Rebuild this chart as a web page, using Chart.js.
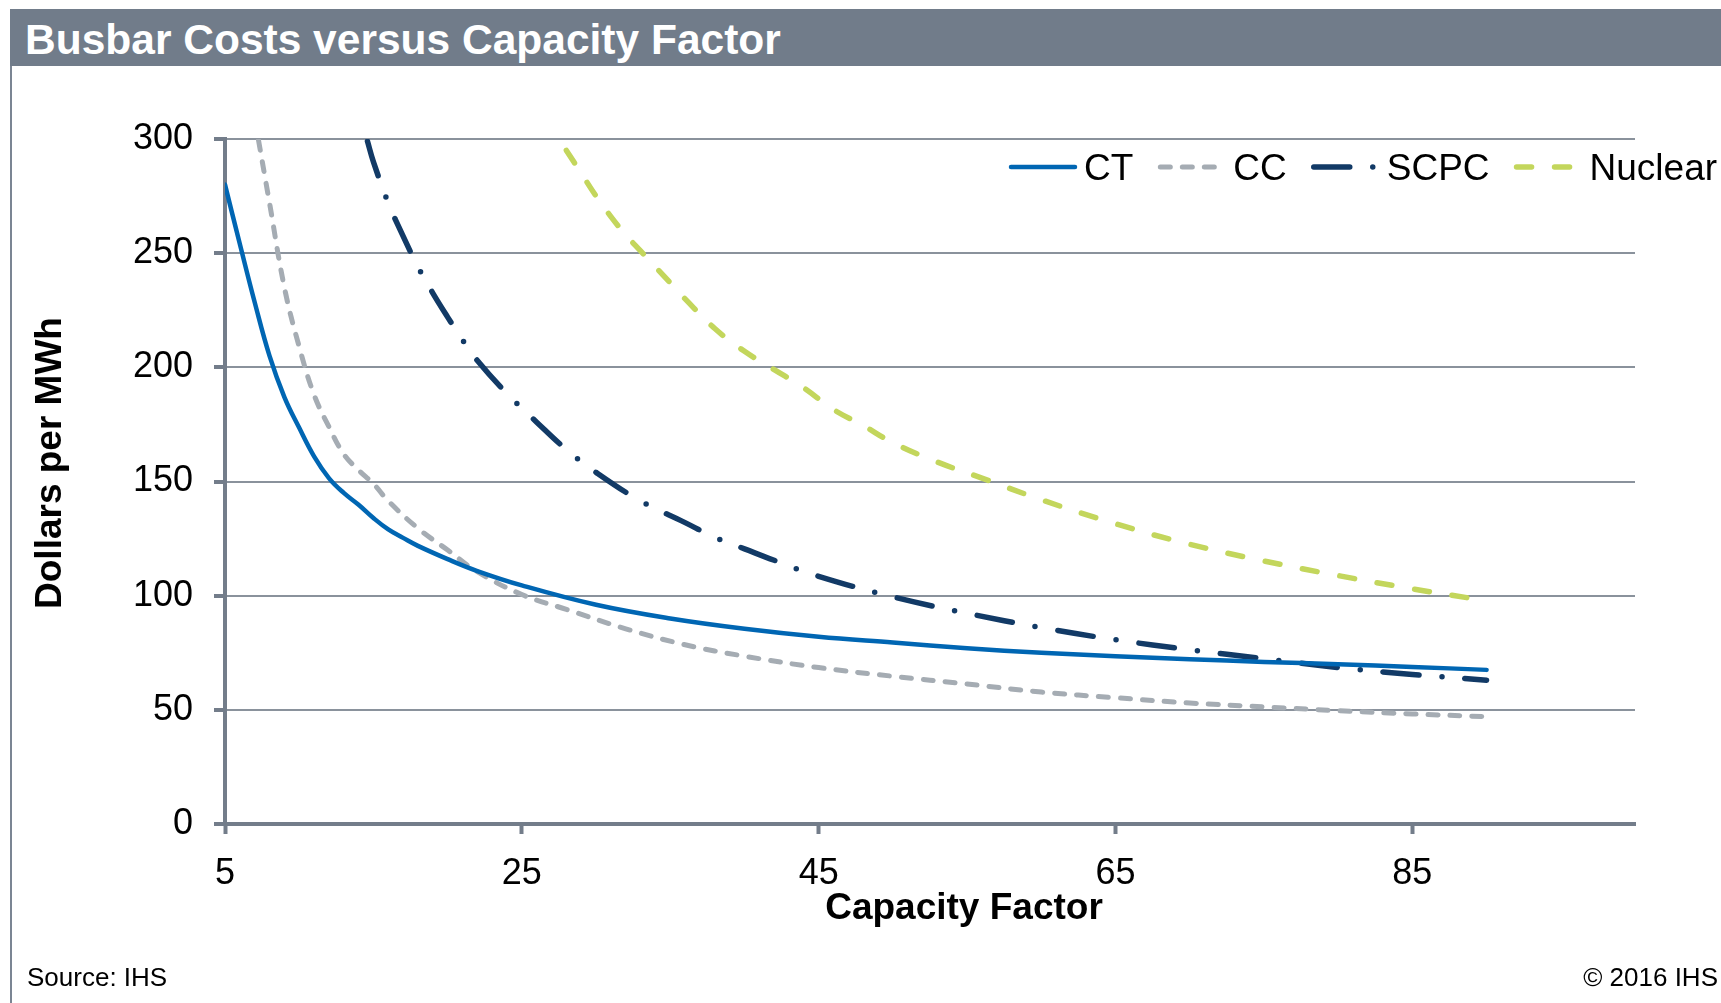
<!DOCTYPE html>
<html>
<head>
<meta charset="utf-8">
<script src="https://cdn.jsdelivr.net/npm/chart.js@4"></script>
<style>
  body { margin: 0; background: #fff; width: 1721px; height: 1003px; overflow: hidden; position: relative; font-family: "Liberation Sans", Arial, sans-serif; }
  #bar { position: absolute; left: 10px; top: 9px; width: 1711px; height: 57px; background: #717c8a; color: #fff; font-weight: bold; font-size: 42.5px; line-height: 62px; padding-left: 15px; box-sizing: border-box; overflow: hidden; }
  #frame { position: absolute; left: 10px; top: 66px; width: 2px; height: 937px; background: #7b8593; }
  #source, #copy { position: absolute; top: 962px; font-size: 26px; color: #000; }
  #source { left: 27px; }
  #copy { right: 3px; }
  canvas { position: absolute; left: 0; top: 0; }
</style>
</head>
<body>
<canvas id="chart" width="1721" height="1003"></canvas>
<div id="bar">Busbar Costs versus Capacity Factor</div>
<div id="frame"></div>
<div id="source">Source: IHS</div>
<div id="copy">© 2016 IHS</div>

<script>
// ---------------- DATA ----------------
const seriesNames = ["CT", "CC", "SCPC", "Nuclear"];
const xTicks = [5, 25, 45, 65, 85];

// CT (solid blue)
const ctX    = [5, 6, 7, 8, 9, 10, 11, 12, 13, 14, 15, 16, 17, 18, 20, 22, 25, 30, 35, 40, 45, 50, 55, 60, 65, 70, 75, 80, 85, 90];
const ctCost = [280, 254, 228.5, 205, 187, 173.5, 161, 151.5, 145, 139.8, 134, 129, 125.3, 121.8, 116, 110.8, 104.5, 96, 90, 85.5, 82, 79.5, 77, 75, 73.5, 72.2, 71, 70, 68.8, 67.5];

// CC (grey dashes)
const ccX    = [7, 8, 9, 10, 11, 12, 13, 14, 15, 16, 18, 20, 22, 25, 28, 32, 36, 40, 45, 50, 55, 60, 65, 70, 75, 80, 85, 90];
const ccCost = [309, 272, 235, 209, 188, 174, 162, 155, 149, 141.5, 129.5, 120, 110.5, 100.5, 94, 85.5, 78.5, 73.5, 68.5, 64.7, 61.3, 57.8, 55.3, 53, 51.3, 49.6, 48.2, 47];

// SCPC (navy dash-dot)
const scpcX    = [14.6, 15, 16, 17, 18, 19, 20, 21, 22, 24, 26, 28, 30, 33, 36, 38, 40, 42, 45, 50, 55, 60, 65, 70, 75, 80, 85, 90];
const scpcCost = [299, 290, 272, 257.5, 244, 232.5, 222, 212, 203, 188.5, 176, 164, 154, 141.5, 132, 125.5, 120.5, 115.5, 108.5, 99.5, 92.3, 86, 80.7, 76.3, 72.4, 68.5, 65.5, 63];

// Nuclear (green dashes)
const nucX    = [28, 29, 30, 31, 32, 33, 34, 35, 36, 38, 40, 42, 44, 46, 48, 50, 53, 56, 60, 65, 70, 75, 80, 85, 89];
const nucCost = [295, 285, 275, 266, 258, 251, 244, 237, 230, 217, 207, 199, 191, 181.5, 174.5, 167, 158.5, 151.5, 142, 131.5, 122.5, 115.2, 108.8, 103, 98.8];

// ---------------- HELPERS ----------------
const FONT = '"Liberation Sans", Arial, sans-serif';
const AXIS = '#737d8a';
const GRID = '#8a929c';

function pts(xs, ys) {
  return xs.map((x, i) => ({ x: x, y: ys[i] }));
}

function series(label, xs, ys, color, width, dash) {
  return {
    label: label,
    data: pts(xs, ys),
    borderColor: color,
    backgroundColor: color,
    borderWidth: width,
    borderDash: dash,
    borderCapStyle: 'round',
    borderJoinStyle: 'round',
    tension: 0.4,
    pointRadius: 0,
    fill: false
  };
}

// axis titles + legend drawn by hand so they can sit where the original has them
const extras = {
  id: 'extras',
  afterDraw(chart) {
    const ctx = chart.ctx;
    const area = chart.chartArea;
    ctx.save();
    ctx.fillStyle = '#000';

    // y title
    ctx.font = 'bold 37px ' + FONT;
    ctx.textAlign = 'center';
    ctx.textBaseline = 'alphabetic';
    ctx.save();
    ctx.translate(61, 463);
    ctx.rotate(-Math.PI / 2);
    ctx.fillText('Dollars per MWh', 0, 0);
    ctx.restore();

    // x title
    ctx.fillText('Capacity Factor', area.left + 739, 919);

    // legend
    ctx.font = '37px ' + FONT;
    ctx.textAlign = 'left';
    let x = area.left + 783;
    const y = 167;
    chart.data.datasets.forEach(ds => {
      ctx.save();
      ctx.strokeStyle = ds.borderColor;
      ctx.lineWidth = ds.borderWidth;
      ctx.lineCap = 'round';
      ctx.setLineDash(ds.borderDash || []);
      ctx.beginPath();
      ctx.moveTo(x + 3, y);
      ctx.lineTo(x + 67, y);
      ctx.stroke();
      ctx.restore();
      ctx.fillText(ds.label, x + 76, 180);
      x += 76 + ctx.measureText(ds.label).width + 24;
    });
    ctx.restore();
  }
};

// ---------------- CHART ----------------
new Chart(document.getElementById('chart'), {
  type: 'line',
  data: {
    datasets: [
      series(seriesNames[0], ctX, ctCost, '#0066b3', 4.5, []),
      series(seriesNames[1], ccX, ccCost, '#a5acb3', 5, [10, 12]),
      series(seriesNames[2], scpcX, scpcCost, '#123a66', 5.5, [36, 23, 0, 23]),
      series(seriesNames[3], nucX, nucCost, '#c3d65c', 5.5, [15, 23])
    ]
  },
  options: {
    responsive: false,
    animation: false,
    layout: { padding: { top: 139, right: 86, left: 0, bottom: 0 } },
    plugins: {
      legend: { display: false },
      title: { display: false },
      tooltip: { enabled: false }
    },
    scales: {
      x: {
        type: 'linear',
        min: 5,
        max: 100,
        afterBuildTicks: s => { s.ticks = xTicks.map(v => ({ value: v })); },
        afterFit: s => { s.height = 179; },
        grid: { drawOnChartArea: false, drawTicks: true, tickLength: 10, tickColor: AXIS, tickWidth: 4 },
        border: { color: AXIS, width: 4 },
        ticks: { color: '#000', font: { family: FONT, size: 36 }, padding: 18, maxRotation: 0 }
      },
      y: {
        min: 0,
        max: 300,
        afterFit: s => { s.width = 225; },
        grid: { color: GRID, lineWidth: 2, drawTicks: true, tickLength: 11, tickColor: AXIS, tickWidth: 4 },
        border: { color: AXIS, width: 4 },
        ticks: { stepSize: 50, color: '#000', font: { family: FONT, size: 36 }, padding: 21 }
      }
    }
  },
  plugins: [extras]
});
</script>
</body>
</html>
